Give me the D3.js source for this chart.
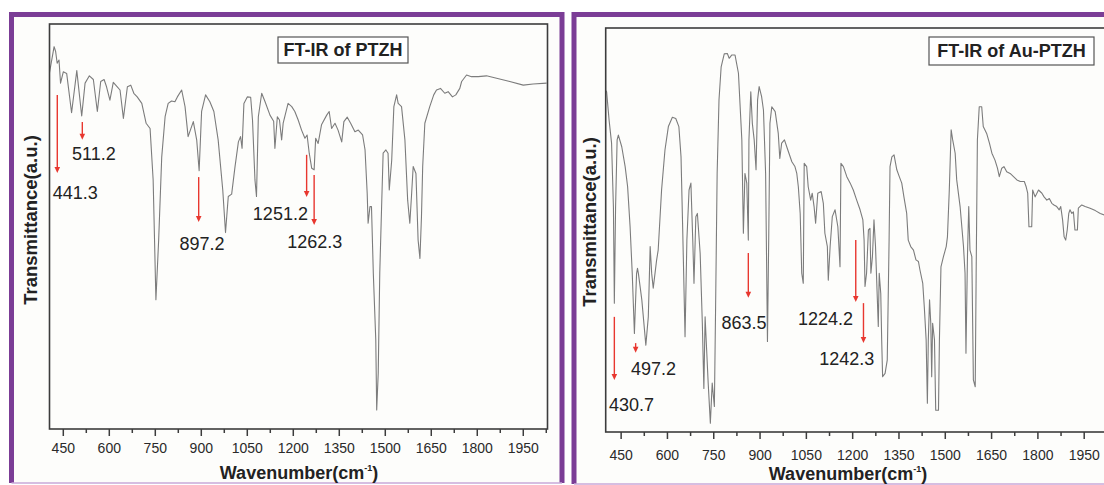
<!DOCTYPE html>
<html>
<head>
<meta charset="utf-8">
<script src="https://cdn.jsdelivr.net/npm/d3@7"></script>
<style>
  body { margin: 0; background: #ffffff; }
  svg { display: block; font-family: "Liberation Sans", Arial, sans-serif; }
</style>
</head>
<body>
<svg id="chart" width="1104" height="485"></svg>
<script>
// ---- data (transmittance in arbitrary units 0..100)
const ptzhWavenumber = [405,420,425,430,436,441,450,461,477,494,510,521,535,548,561,572,583,591,602,613,626,635,646,659,670,680,691,706,720,733,743,752,761,771,782,792,803,814,822,836,847,857,874,885,893,901,914,928,941,955,970,979,988,999,1010,1021,1028,1033,1039,1050,1061,1067,1075,1080,1086,1097,1108,1124,1136,1140,1148,1155,1162,1167,1183,1195,1205,1216,1227,1238,1245,1252,1260,1268,1273,1281,1292,1309,1317,1325,1336,1346,1358,1365,1376,1387,1401,1412,1426,1434,1441,1444,1450,1455,1461,1469,1472,1477,1482,1488,1493,1502,1509,1513,1521,1528,1537,1542,1553,1564,1573,1580,1586,1591,1600,1607,1613,1618,1622,1629,1645,1658,1667,1680,1694,1705,1719,1730,1743,1749,1765,1781,1803,1830,1863,1906,1950,1982,2026];
const ptzhTransmittance = [88,94.4,93.2,90.3,91.1,85.4,88.2,87.8,78.1,88.5,77.3,85.4,87.2,86.3,78.4,85.8,86.3,84.5,81.2,85.6,84.5,83.7,76.7,84.5,84.9,82.9,82,80.4,75.5,74.2,61.5,31.9,46.7,67.2,77.1,80.4,81,80.8,82,83.7,79.6,72.2,75.9,71.4,63.8,78.4,82.5,80.8,78.4,71.4,59,48.5,57.4,58,64.8,70.9,72.2,69.3,80.4,82,81.9,76.3,61.5,57.4,77.1,82.9,80.8,77.5,76,69.3,77.1,76.3,71.4,75.5,80.4,79.6,78.4,76.3,73.8,71.8,72.6,68.1,64.4,64,71.8,70.5,75.1,77.5,78.4,74.2,75.5,73.8,70.9,75.9,77,75.5,73.4,73.8,72.6,68.9,58.2,50.8,54.9,54.9,38.4,22,4.7,13.8,38.5,54.9,68.1,68.9,68.1,59,66.4,79.6,82.5,80.4,79.6,71.4,56.5,50.8,58.2,64.8,63.1,46.7,42.1,52.4,64.8,75.5,79.6,82.5,83.7,84.1,82.9,83.3,82,82.5,84.1,85.8,87.4,87,87,87.2,86.6,85.8,84.9,85.2,85.4];

const auPtzhWavenumber = [400,403,411,419,425,428,432,437,441,452,463,471,479,486,493,500,503,506,517,530,538,544,549,554,565,570,581,592,603,616,627,637,644,649,657,663,670,676,682,686,692,697,706,713,718,722,727,732,739,745,752,756,761,767,774,784,794,800,808,819,830,841,846,851,857,862,864,870,875,881,887,892,897,905,911,918,924,928,932,938,949,959,964,970,979,990,1003,1013,1019,1024,1030,1035,1040,1043,1051,1056,1064,1069,1075,1080,1087,1098,1105,1110,1118,1121,1127,1134,1143,1152,1159,1162,1170,1181,1192,1202,1213,1224,1233,1237,1240,1245,1251,1256,1259,1264,1269,1274,1280,1283,1286,1291,1294,1297,1305,1312,1318,1321,1327,1334,1343,1351,1359,1366,1375,1380,1388,1397,1405,1413,1418,1427,1432,1438,1442,1445,1449,1453,1456,1459,1465,1469,1478,1481,1486,1494,1503,1507,1513,1519,1524,1532,1537,1548,1559,1564,1567,1572,1576,1580,1586,1591,1597,1600,1604,1610,1618,1623,1634,1643,1651,1661,1669,1675,1683,1690,1699,1710,1721,1732,1743,1756,1762,1767,1771,1780,1783,1791,1802,1813,1820,1829,1837,1845,1852,1861,1869,1874,1880,1885,1890,1895,1900,1904,1910,1915,1920,1928,1931,1942,1953,1969,1986,2002,2015,2030];
const auPtzhTransmittance = [84.5,84.2,77.2,71.5,55.7,31.9,55.7,72.3,73.5,70.6,65.7,60.7,50.8,39.2,24.4,39.2,40.5,39.2,32.7,21.5,28.5,45.9,39.2,35.6,42.6,45,59.9,69.8,75.6,77.9,77.6,75.6,68.1,51.7,23.6,47.5,59.9,61.6,47.5,36.8,53.3,54.1,44.2,26.9,10.8,28.5,20.3,12.1,2.2,12.1,6.3,31,64,82.2,90.4,93.6,93.7,92.5,93.3,93.3,88.8,72.3,49.2,64,61.6,47.5,72.3,84.2,76.4,72.3,64.9,82.2,85.5,83,79.7,64,22.4,47.5,76.4,80.5,79.3,73.9,67.7,71.5,72.3,69.8,66.9,65.7,64,60.7,54.1,39.3,36.8,66.5,65.7,60.7,57.4,59.1,55.8,51.7,59.1,59.5,56.6,49.2,45.9,37.6,45.9,53.3,55,50.8,40.9,66.5,65.7,63.2,61.6,59.9,57.4,55,52.5,47.5,36,39.3,50,50.4,39.3,43.4,52.5,45.9,32.7,26.1,39.3,34.3,22.8,13.7,14.5,17.8,47.5,65.7,68.1,68.6,64.9,63.2,61.6,58.2,54.1,47.5,45.9,45,42.6,42.2,40.1,36.8,31,22.8,7.1,22.8,32.7,26.9,13.7,26.9,22.8,5.4,5.4,22.8,40.9,43.4,45.9,48.3,59.9,74.8,72.3,69,62.4,55.8,45.9,39.3,19.5,44.2,55.8,45,43.4,12.9,11.2,39.3,72.3,80.5,80.5,75.6,73.9,71.5,69,67.3,65.3,63.2,65.3,65.7,64.4,64,63.2,62.4,62,62,60.7,59.1,50.8,50.8,59.9,58.2,59.9,59.1,58.2,57.4,57.8,56.6,56.2,55.8,55,55.8,52.5,48.3,47.5,50,54.1,55,54.1,54.5,50,50,55.4,56.2,55.8,55.4,54.8,54.1,53.7,53.3];

// tick labels on the wavenumber axis
const majorTicks = [450,600,750,900,1050,1200,1350,1500,1650,1800,1950];
const minorTicks = [525,675,825,975,1125,1275,1425,1575,1725,1875,2025];

// marked peaks (label text, wavenumber where the arrow stands)
const ptzhPeakLabels = ["441.3","511.2","897.2","1251.2","1262.3"];
const ptzhPeakAt     = [430.4, 512, 891.5, 1243.5, 1268];
const auPtzhPeakLabels = ["430.7","497.2","863.5","1224.2","1242.3"];
const auPtzhPeakAt     = [428, 497, 862, 1210, 1235];

// ---- layout (arrow ends / label spots in transmittance units, pixel nudges)
const ptzhArrowLayout = [
  {top: 82.5, tip: 63.2, labelY: 56.7, anchor: "start",  dx: -4.6},
  {top: 75.8, tip: 71.4, labelY: 66.5, anchor: "start",  dx: -10.3},
  {top: 62.2, tip: 51.1, labelY: 44.1, anchor: "middle", dx: 3.3},
  {top: 67.7, tip: 57.3, labelY: 51.7, anchor: "end",    dx: 1.3},
  {top: 62.7, tip: 50.4, labelY: 44.8, anchor: "middle", dx: 0.7}
];
const auPtzhArrowLayout = [
  {top: 28.5, tip: 12.9, labelY: 5.1,  anchor: "start",  dx: -5.3},
  {top: 22.0, tip: 19.6, labelY: 14.2, anchor: "start",  dx: -4.7},
  {top: 44.3, tip: 33.2, labelY: 25.4, anchor: "middle", dx: -4.3},
  {top: 47.5, tip: 32.2, labelY: 26.6, anchor: "end",    dx: -2.7},
  {top: 31.9, tip: 22.0, labelY: 16.7, anchor: "middle", dx: -16.8}
];

const panels = [
  {
    id: "ptzh", title: "FT-IR of PTZH",
    wave: ptzhWavenumber, trans: ptzhTransmittance,
    peakLabels: ptzhPeakLabels, peakAt: ptzhPeakAt, arrows: ptzhArrowLayout,
    domain: [405, 2029], frame: {x0: 49.5, x1: 547.5, y0: 24, y1: 429},
    border: {x0: 11.5, x1: 562, y0: 14.5, y1: 483},
    titleBox: {x: 278, y: 37, w: 130, h: 26},
    yLabel: {x: 31, y: 220}, tickBase: 453, xTitle: {x: 299, y: 479}
  },
  {
    id: "auptzh", title: "FT-IR of Au-PTZH",
    wave: auPtzhWavenumber, trans: auPtzhTransmittance,
    peakLabels: auPtzhPeakLabels, peakAt: auPtzhPeakAt, arrows: auPtzhArrowLayout,
    domain: [400, 2030], frame: {x0: 605.7, x1: 1108.9, y0: 28, y1: 432},
    border: {x0: 574, x1: 1130, y0: 14.5, y1: 484},
    titleBox: {x: 929, y: 37, w: 165, h: 28},
    yLabel: {x: 590, y: 222}, tickBase: 460, xTitle: {x: 848, y: 480}
  }
];

const svg = d3.select("#chart");
const purple = "#7b3d96";

function drawPanel(p) {
  const g = svg.append("g").attr("class", "panel-" + p.id);
  const b = p.border, f = p.frame;

  // panel background + purple frame
  g.append("rect")
    .attr("x", b.x0).attr("y", b.y0)
    .attr("width", b.x1 - b.x0).attr("height", b.y1 - b.y0)
    .attr("fill", "#fdfdfb");
  g.append("path")
    .attr("d", `M${b.x0},${b.y1} V${b.y0} H${b.x1} V${b.y1}`)
    .attr("fill", "none").attr("stroke", purple).attr("stroke-width", 5);
  g.append("line")
    .attr("x1", b.x0).attr("x2", b.x1).attr("y1", b.y1).attr("y2", b.y1)
    .attr("stroke", "#c8a8d8").attr("stroke-width", 1.5);

  const x = d3.scaleLinear().domain(p.domain).range([f.x0, f.x1]);
  const y = d3.scaleLinear().domain([0, 100]).range([f.y1, f.y0]);

  // spectrum
  const clipId = "clip-" + p.id;
  g.append("clipPath").attr("id", clipId)
    .append("rect").attr("x", f.x0).attr("y", f.y0)
    .attr("width", f.x1 - f.x0).attr("height", f.y1 - f.y0);

  const pts = p.wave.map((w, i) => [w, p.trans[i]]);
  const line = d3.line().x(d => x(d[0])).y(d => y(d[1]));
  g.append("path")
    .datum(pts)
    .attr("clip-path", `url(#${clipId})`)
    .attr("d", line)
    .attr("fill", "none")
    .attr("stroke", "#7c7c7c")
    .attr("stroke-width", 1.1)
    .attr("stroke-linejoin", "round");

  // plot frame
  g.append("rect")
    .attr("x", f.x0).attr("y", f.y0)
    .attr("width", f.x1 - f.x0).attr("height", f.y1 - f.y0)
    .attr("fill", "none").attr("stroke", "#3c3c3c").attr("stroke-width", 1.6);

  // x axis ticks (outward) and labels
  const axis = g.append("g").attr("transform", `translate(0,${f.y1})`);
  axis.selectAll("line.major").data(majorTicks).enter().append("line")
    .attr("class", "major")
    .attr("x1", d => x(d)).attr("x2", d => x(d))
    .attr("y1", 0).attr("y2", 7)
    .attr("stroke", "#3c3c3c").attr("stroke-width", 1.5);
  axis.selectAll("line.minor").data(minorTicks.filter(d => x(d) <= f.x1)).enter().append("line")
    .attr("class", "minor")
    .attr("x1", d => x(d)).attr("x2", d => x(d))
    .attr("y1", 0).attr("y2", 4)
    .attr("stroke", "#3c3c3c").attr("stroke-width", 1.5);
  g.selectAll("text.tick").data(majorTicks).enter().append("text")
    .attr("class", "tick")
    .attr("x", d => x(d)).attr("y", p.tickBase)
    .attr("text-anchor", "middle")
    .attr("font-size", 14)
    .attr("fill", "#2a2a2a")
    .text(d => d);

  // axis titles
  const xt = g.append("text")
    .attr("x", p.xTitle.x).attr("y", p.xTitle.y)
    .attr("text-anchor", "middle")
    .attr("font-size", 18).attr("font-weight", "bold").attr("fill", "#222");
  xt.append("tspan").text("Wavenumber(cm");
  xt.append("tspan").attr("font-size", 9).attr("dy", -8).text("-1");
  xt.append("tspan").attr("dy", 8).text(")");

  g.append("text")
    .attr("transform", `translate(${p.yLabel.x},${p.yLabel.y}) rotate(-90)`)
    .attr("text-anchor", "middle").attr("dy", "0.35em")
    .attr("font-size", 18.5).attr("font-weight", "bold").attr("fill", "#222")
    .text("Transmittance(a.u.)");

  // title box
  const tb = p.titleBox;
  g.append("rect")
    .attr("x", tb.x).attr("y", tb.y).attr("width", tb.w).attr("height", tb.h)
    .attr("fill", "#ffffff").attr("stroke", "#555").attr("stroke-width", 1.2);
  g.append("text")
    .attr("x", tb.x + tb.w / 2).attr("y", tb.y + tb.h / 2)
    .attr("dy", "0.36em").attr("text-anchor", "middle")
    .attr("font-size", 18).attr("font-weight", "bold").attr("fill", "#222")
    .text(p.title);

  // red peak arrows
  const red = "#e8372f";
  p.peakAt.forEach((w, i) => {
    const a = p.arrows[i];
    const ax = x(w), yTop = y(a.top), yTip = y(a.tip);
    g.append("line")
      .attr("x1", ax).attr("x2", ax)
      .attr("y1", yTop).attr("y2", yTip - 5)
      .attr("stroke", red).attr("stroke-width", 1.4);
    g.append("path")
      .attr("d", `M${ax - 2.8},${yTip - 6} L${ax + 2.8},${yTip - 6} L${ax},${yTip} Z`)
      .attr("fill", red);
    g.append("text")
      .attr("x", ax + a.dx).attr("y", y(a.labelY))
      .attr("text-anchor", a.anchor)
      .attr("font-size", 18).attr("fill", "#222")
      .text(p.peakLabels[i]);
  });
}

panels.forEach(drawPanel);
</script>
</body>
</html>
